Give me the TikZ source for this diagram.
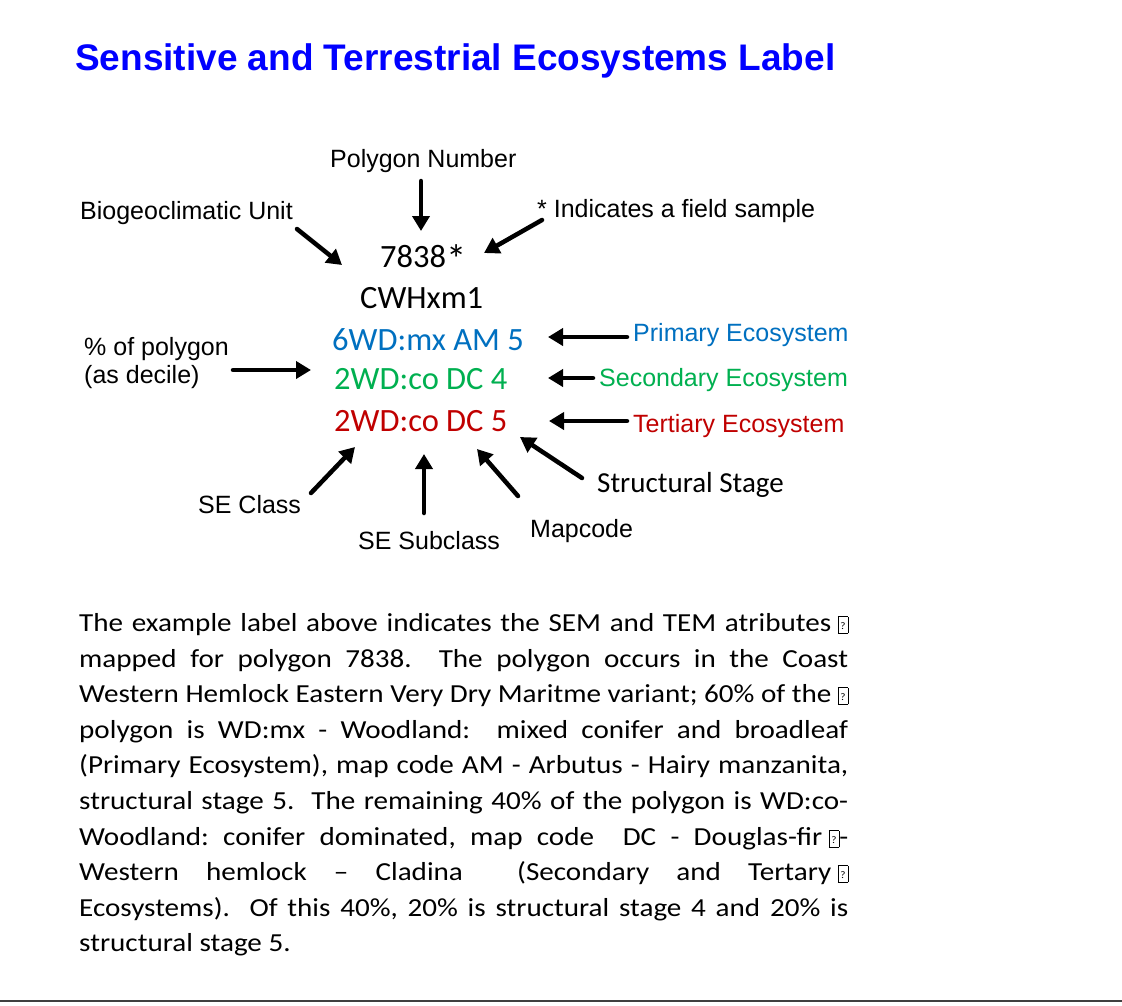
\documentclass[tikz,border=0pt]{standalone}
\usepackage{fontspec}
\setmainfont{Liberation Sans}
\newfontfamily\calib{Carlito}
\newfontfamily\bodyf[FakeStretch=1.12]{Carlito}
\usetikzlibrary{arrows.meta}
\definecolor{tblue}{RGB}{0,0,255}
\definecolor{pblue}{RGB}{0,112,192}
\definecolor{sgreen}{RGB}{0,176,80}
\definecolor{tred}{RGB}{192,0,0}
\newcommand\gsp{\hskip 0.23em plus 1fil minus 0.12em\relax}
\newcommand\jline[1]{\hbox to 769pt{\frenchspacing\spaceskip=0.23em plus 1fil minus 0.12em\relax #1}}
\newcommand\qbox{\hspace{0.25em}\raisebox{-0.08em}{\setlength\fboxsep{0pt}\setlength\fboxrule{0.5pt}\framebox[0.4em][c]{\rule{0pt}{0.62em}\raisebox{0.12em}{\fontsize{10}{10}\selectfont ?}}}}
\tikzset{
  lbl/.style={anchor=base west, inner sep=0pt, font=\fontsize{25}{30}\selectfont},
  cen/.style={anchor=base west, inner sep=0pt, font=\calib\fontsize{32.5}{38}\selectfont},
  bodyline/.style={anchor=base west, inner sep=0pt, font=\bodyf\fontsize{26}{32}\selectfont},
  arr/.style={line width=4.5pt, line cap=round, -{Triangle[length=15pt,width=17pt]}}
}
\begin{document}
\begin{tikzpicture}[x=1pt,y=-1pt]
\useasboundingbox (0,0) rectangle (1122,1005);
\fill[white] (0,0) rectangle (1122,1005);

% title
\node[anchor=base west, inner sep=0pt, text=tblue, font=\bfseries\fontsize{37}{44}\selectfont] (title) at (75,70) {Sensitive and Terrestrial Ecosystems Label};

% labels
\node[lbl] (polyn) at (330,167) {Polygon Number};
\node[lbl] (bgc) at (80,219) {Biogeoclimatic Unit};
\node[lbl] (field) at (537,217) {* Indicates a field sample};
\node[lbl] (pct1) at (84,355) {\% of polygon};
\node[lbl] (pct2) at (84,383) {(as decile)};
\node[lbl, text=pblue] (prim) at (633,341) {Primary Ecosystem};
\node[lbl, text=sgreen] (sec) at (599,386) {Secondary Ecosystem};
\node[lbl, text=tred] (ter) at (633,432) {Tertiary Ecosystem};
\node[lbl] (secl) at (198,513) {SE Class};
\node[lbl] (sesub) at (358,549) {SE Subclass};
\node[lbl] (mapc) at (530,537) {Mapcode};
\node[anchor=base west, inner sep=0pt, font=\calib\fontsize{29}{34}\selectfont] (sstage) at (597,492) {Structural Stage};

% central label
\node[cen] (num) at (380,267) {7838\raisebox{-0.19em}{\scalebox{1.25}{*}}};
\node[cen] (bec) at (360,308) {CWHxm1};
\node[cen, text=pblue] (e1) at (332,350) {6WD:mx AM 5};
\node[cen, text=sgreen] (e2) at (334,389) {2WD:co DC 4};
\node[cen, text=tred] (e3) at (334,431) {2WD:co DC 5};

% arrow end points
\coordinate (a1s) at (421,181); \coordinate (a1t) at (421,231);
\coordinate (a2s) at (297,229); \coordinate (a2t) at (342,265);
\coordinate (a3s) at (542,220); \coordinate (a3t) at (484,253);
\coordinate (a4s) at (233,370); \coordinate (a4t) at (311,370);
\coordinate (a5s) at (627,337); \coordinate (a5t) at (548,337);
\coordinate (a6s) at (593,378); \coordinate (a6t) at (548,378);
\coordinate (a7s) at (627,421); \coordinate (a7t) at (549,421);
\coordinate (a8s) at (311,493); \coordinate (a8t) at (355,447);
\coordinate (a9s) at (424,513); \coordinate (a9t) at (424,454);
\coordinate (a10s) at (518,496); \coordinate (a10t) at (477,449);
\coordinate (a11s) at (582,478); \coordinate (a11t) at (520,437);

\foreach \i in {1,...,11} { \draw[arr] (a\i s) -- (a\i t); }

% body text
\node[bodyline] (b1) at (79,631) {\jline{The example label above indicates the SEM and TEM atributes\qbox}};
\node[bodyline] (b2) at (79,667) {\jline{mapped for polygon 7838. \gsp The polygon occurs in the Coast}};
\node[bodyline] (b3) at (79,702) {\jline{Western Hemlock Eastern Very Dry Maritme variant; 60\% of the\qbox}};
\node[bodyline] (b4) at (79,738) {\jline{polygon is WD:mx - Woodland: \gsp mixed conifer and broadleaf}};
\node[bodyline] (b5) at (79,773) {\jline{(Primary Ecosystem), map code AM - Arbutus - Hairy manzanita,}};
\node[bodyline] (b6) at (79,809) {\jline{structural stage 5. \gsp The remaining 40\% of the polygon is WD:co-}};
\node[bodyline] (b7) at (79,845) {\jline{Woodland: conifer dominated, map code \gsp DC - Douglas-fir\qbox-}};
\node[bodyline] (b8) at (79,880) {\jline{Western hemlock – Cladina \gsp (Secondary and Tertary\qbox}};
\node[bodyline] (b9) at (79,916) {\jline{Ecosystems). \gsp Of this 40\%, 20\% is structural stage 4 and 20\% is}};
\node[bodyline] (b10) at (79,951) {structural stage 5.};

% bottom rule
\draw[line width=2pt, black!75] (0,1001) -- (1122,1001);
\end{tikzpicture}
\end{document}
